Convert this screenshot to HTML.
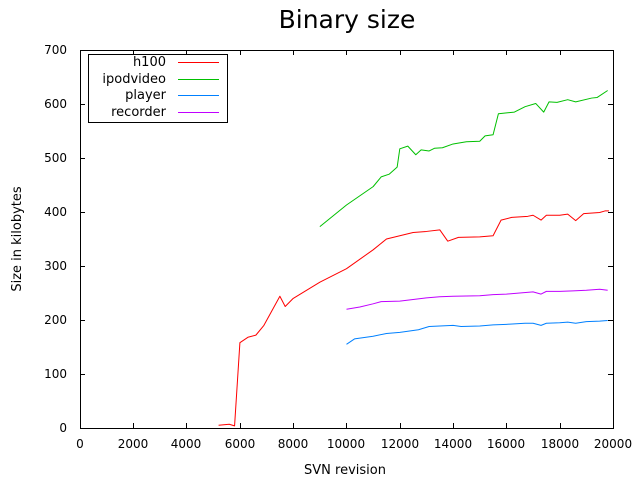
<!DOCTYPE html>
<html><head><meta charset="utf-8"><style>body{margin:0;background:#fff}svg{display:block}</style></head><body>
<svg width="640" height="480" xmlns="http://www.w3.org/2000/svg" font-family="DejaVu Sans, Liberation Sans, sans-serif">
<rect width="640" height="480" fill="#fff"/>
<text x="347" y="28" font-size="25" text-anchor="middle">Binary size</text>
<g stroke="#000" stroke-width="1" fill="none">
<rect x="80.5" y="50.5" width="533" height="378"/>
<path d="M80 374.5h5M80 320.5h5M80 266.5h5M80 212.5h5M80 158.5h5M80 104.5h5M613 374.5h-5M613 320.5h-5M613 266.5h-5M613 212.5h-5M613 158.5h-5M613 104.5h-5"/>
<path d="M133.5 428v-5M186.5 428v-5M240.5 428v-5M293.5 428v-5M346.5 428v-5M400.5 428v-5M453.5 428v-5M506.5 428v-5M560.5 428v-5M133.5 50v5M186.5 50v5M240.5 50v5M293.5 50v5M346.5 50v5M400.5 50v5M453.5 50v5M506.5 50v5M560.5 50v5"/>
</g>
<g font-size="12" text-anchor="end">
<text x="67" y="432">0</text><text x="67" y="378">100</text><text x="67" y="324">200</text><text x="67" y="270">300</text><text x="67" y="216">400</text><text x="67" y="162">500</text><text x="67" y="108">600</text><text x="67" y="54">700</text>
</g>
<g font-size="12" text-anchor="middle">
<text x="80" y="448">0</text><text x="133" y="448">2000</text><text x="186" y="448">4000</text><text x="240" y="448">6000</text><text x="293" y="448">8000</text><text x="346" y="448">10000</text><text x="400" y="448">12000</text><text x="453" y="448">14000</text><text x="506" y="448">16000</text><text x="560" y="448">18000</text><text x="613" y="448">20000</text>
<text x="345" y="474" font-size="13">SVN revision</text>
<text transform="translate(21,239) rotate(-90)" font-size="13">Size in kilobytes</text>
</g>
<g transform="translate(80,428) scale(0.02665,-0.54)" fill="none" stroke-width="1" stroke-linejoin="round">
<polyline vector-effect="non-scaling-stroke" stroke="#ff0000" points="5200,5 5600,7 5800,4 6000,158 6300,168 6600,172 6900,190 7500,244 7700,225 8000,240 9000,270 10000,295 11000,330 11500,350 12000,356 12500,362 13000,364 13500,367 13800,346 14200,353 15000,354 15500,356 15800,385 16200,390 16800,392 17000,394 17300,385 17500,394 18000,394 18300,396 18600,384 18900,397 19500,399 19700,402 19850,402"/>
<polyline vector-effect="non-scaling-stroke" stroke="#00c000" points="9000,373 10000,413 11000,447 11300,465 11600,470 11900,483 12000,517 12300,522 12600,506 12800,515 13100,513 13300,518 13600,519 14000,526 14500,530 15000,531 15200,541 15500,543 15700,582 16300,585 16700,595 17100,601 17400,585 17600,604 17900,603 18300,608 18600,604 19200,611 19400,612 19800,625"/>
<polyline vector-effect="non-scaling-stroke" stroke="#0080ff" points="10000,155 10300,165 11000,170 11500,175 12000,177 12700,182 13100,188 13500,189 14000,190 14300,188 15000,189 15500,191 16000,192 16700,194 17000,194 17300,190 17500,194 18000,195 18300,196 18600,194 19000,197 19500,198 19800,199"/>
<polyline vector-effect="non-scaling-stroke" stroke="#c000ff" points="10000,220 10500,224 11000,230 11300,234 12000,235 12500,238 13000,241 13500,243 14000,244 15000,245 15500,247 16000,248 16500,250 17000,252 17300,248 17500,253 18000,253 18500,254 19000,255 19500,257 19800,255"/>
</g>
<rect x="88.5" y="54.5" width="139" height="68" fill="#fff" stroke="#000"/>
<g font-size="13" text-anchor="end">
<text x="166" y="66">h100</text><text x="166" y="83">ipodvideo</text><text x="166" y="99">player</text><text x="166" y="116">recorder</text>
</g>
<g stroke-width="1">
<path d="M178 62.5h41" stroke="#ff0000"/><path d="M178 79.5h41" stroke="#00c000"/><path d="M178 95.5h41" stroke="#0080ff"/><path d="M178 112.5h41" stroke="#c000ff"/>
</g>
</svg>
</body></html>
